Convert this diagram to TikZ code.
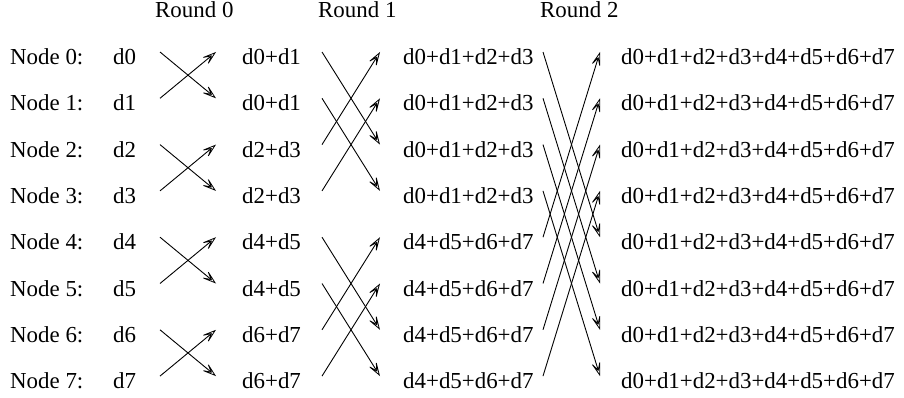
\documentclass[tikz,border=0pt]{standalone}
\usepackage{fontspec}
\setmainfont{Liberation Serif}
\usetikzlibrary{arrows.meta}
\begin{document}
\begin{tikzpicture}[x=1pt,y=-1pt,
  lab/.style={anchor=base west, inner sep=0pt, font=\fontsize{22.9pt}{27pt}\selectfont},
  arr/.style={line width=0.9pt, -{Stealth[open,length=17pt,width=11pt,inset=10pt,line width=0.8pt]}}]
\useasboundingbox (0,0) rectangle (904,398);
% round headers
\node[lab] (r0) at (155,18) {Round 0};
\node[lab] (r1) at (318,18) {Round 1};
\node[lab] (r2) at (540,18) {Round 2};
% rows
\foreach \i in {0,...,7} {
  \pgfmathsetmacro\yc{57+46.3*\i}
  \pgfmathtruncatemacro\p{2*floor(\i/2)}
  \pgfmathtruncatemacro\q{\p+1}
  \node[lab] (node\i) at (10,\yc+7.5) {Node \i:};
  \node[lab] (c1-\i) at (113,\yc+7.5) {d\i};
  \node[lab] (c2-\i) at (242,\yc+7.5) {d\p+d\q};
  \ifnum\i<4
    \node[lab] (c3-\i) at (403,\yc+7.5) {d0+d1+d2+d3};
  \else
    \node[lab] (c3-\i) at (403,\yc+7.5) {d4+d5+d6+d7};
  \fi
  \node[lab] (c4-\i) at (621,\yc+7.5) {d0+d1+d2+d3+d4+d5+d6+d7};
  \coordinate (s0-\i) at (160,\yc-5);
  \coordinate (e0-\i) at (216,\yc-5);
  \coordinate (s1-\i) at (322,\yc-5);
  \coordinate (e1-\i) at (380,\yc-5);
  \coordinate (s2-\i) at (543,\yc-5);
  \coordinate (e2-\i) at (600,\yc-5);
}
% exchanges
\foreach \i in {0,...,7} {
  \pgfmathtruncatemacro\ja{\i+1-2*mod(\i,2)}
  \pgfmathtruncatemacro\jb{\i+2-4*mod(floor(\i/2),2)}
  \pgfmathtruncatemacro\jc{\i+4-8*floor(\i/4)}
  \draw[arr] (s0-\i) -- (e0-\ja);
  \draw[arr] (s1-\i) -- (e1-\jb);
  \draw[arr] (s2-\i) -- (e2-\jc);
}
\end{tikzpicture}
\end{document}
